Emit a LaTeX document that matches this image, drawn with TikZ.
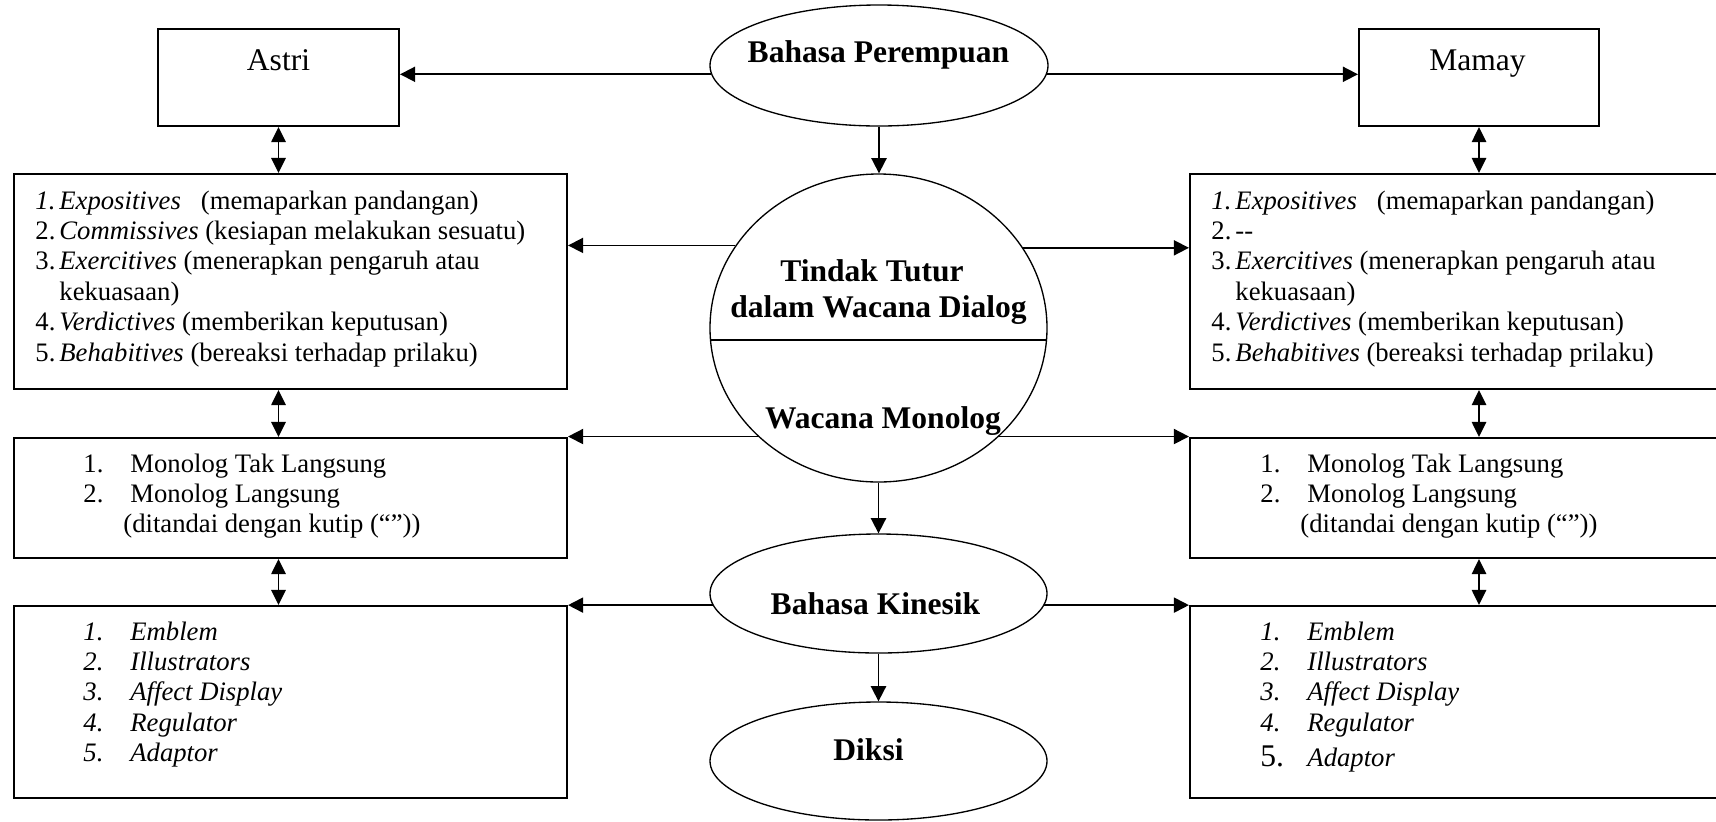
\documentclass[tikz,border=0pt]{standalone}
\usepackage{fontspec}
\setmainfont{Liberation Serif}
\usetikzlibrary{arrows.meta,shapes.geometric}
\newcommand{\lab}[2][10.8pt]{\makebox[#1][l]{#2}}
\tikzset{
  box/.style={draw, line width=0.95pt, rectangle, inner sep=0pt},
  oval/.style={draw, line width=0.6pt, ellipse, inner sep=0pt},
  arr/.style={line width=0.8pt, -{Triangle[length=6.8pt,width=6.8pt]}},
  darr/.style={line width=0.8pt, {Triangle[length=6.8pt,width=6.5pt]}-{Triangle[length=6.8pt,width=6.5pt]}},
  body/.style={inner sep=0pt, anchor=base west, font=\fontsize{12}{13.7}\selectfont},
  title/.style={inner sep=0pt, anchor=base, font=\fontsize{14.2}{16}\selectfont\bfseries},
  who/.style={inner sep=0pt, anchor=base, font=\fontsize{14.2}{16}\selectfont},
}
\begin{document}
\begin{tikzpicture}[x=0.45pt,y=-0.45pt]
\useasboundingbox (0,0) rectangle (1716,821);
\clip (0,0) rectangle (1716,821);

% boxes
\node[box, minimum width=108.45pt, minimum height=43.65pt] (astri) at (278.5,77.5) {};
\node[box, minimum width=108pt, minimum height=43.65pt] (mamay) at (1479,77.5) {};
\node[box, minimum width=248.85pt, minimum height=96.75pt] (b1L) at (290.5,281.5) {};
\node[box, minimum width=248.85pt, minimum height=54pt] (b2L) at (290.5,498) {};
\node[box, minimum width=248.85pt, minimum height=86.4pt] (b3L) at (290.5,702) {};
\node[box, minimum width=256.5pt, minimum height=96.75pt] (b1R) at (1475,281.5) {};
\node[box, minimum width=256.5pt, minimum height=54pt] (b2R) at (1475,498) {};
\node[box, minimum width=256.5pt, minimum height=86.4pt] (b3R) at (1475,702) {};

% ovals
\node[oval, minimum width=152.1pt, minimum height=54.45pt] (BP) at (879,65.5) {};
\node[oval, minimum width=151.65pt, minimum height=138.6pt] (TT) at (878.5,328) {};
\node[oval, minimum width=151.65pt, minimum height=53.55pt] (BK) at (878.5,593.5) {};
\node[oval, minimum width=151.65pt, minimum height=53.1pt] (DK) at (878.5,761) {};
\draw[line width=0.7pt] (TT.184.8) -- (TT.-4.8);

% titles
\node[who] (tA) at (278.5,70) {Astri};
\node[who] (tM) at (1477.5,70) {Mamay};
\node[title] (tBP) at (878.5,62) {Bahasa Perempuan};
\node[title] (tTT1) at (872,281) {Tindak Tutur};
\node[title] (tTT2) at (878.5,317) {dalam Wacana Dialog};
\node[title] (tWM) at (883,428) {Wacana Monolog};
\node[title] (tBK) at (875.5,614) {Bahasa Kinesik};
\node[title] (tDK) at (868.5,760) {Diksi};

% list texts
\node[body] (l1L) at (35,209) {\begin{tabular}[t]{@{}l@{}}
\lab{\textit{1.}}\textit{Expositives}\hspace{9pt}(memaparkan pandangan)\\
\lab{2.}\textit{Commissives} (kesiapan melakukan sesuatu)\\
\lab{3.}\textit{Exercitives} (menerapkan pengaruh atau\\
\lab{}kekuasaan)\\
\lab{4.}\textit{Verdictives} (memberikan keputusan)\\
\lab{5.}\textit{Behabitives} (bereaksi terhadap prilaku)
\end{tabular}};
\node[body] (l1R) at (1211,209) {\begin{tabular}[t]{@{}l@{}}
\lab{\textit{1.}}\textit{Expositives}\hspace{9pt}(memaparkan pandangan)\\
\lab{2.}-{}-\\
\lab{3.}\textit{Exercitives} (menerapkan pengaruh atau\\
\lab{}kekuasaan)\\
\lab{4.}\textit{Verdictives} (memberikan keputusan)\\
\lab{5.}\textit{Behabitives} (bereaksi terhadap prilaku)
\end{tabular}};
\node[body] (l2L) at (83,472) {\begin{tabular}[t]{@{}l@{}}
\lab[21.15pt]{1.}Monolog Tak Langsung\\
\lab[21.15pt]{2.}Monolog Langsung\\
\hspace{18pt}(ditandai dengan kutip (“”))
\end{tabular}};
\node[body] (l2R) at (1260,472) {\begin{tabular}[t]{@{}l@{}}
\lab[21.15pt]{1.}Monolog Tak Langsung\\
\lab[21.15pt]{2.}Monolog Langsung\\
\hspace{18pt}(ditandai dengan kutip (“”))
\end{tabular}};
\node[body] (l3L) at (83,640) {\begin{tabular}[t]{@{}l@{}}
\lab[21.15pt]{\textit{1.}}\textit{Emblem}\\
\lab[21.15pt]{\textit{2.}}\textit{Illustrators}\\
\lab[21.15pt]{\textit{3.}}\textit{Affect Display}\\
\lab[21.15pt]{\textit{4.}}\textit{Regulator}\\
\lab[21.15pt]{\textit{5.}}\textit{Adaptor}
\end{tabular}};
\node[body] (l3R) at (1260,640) {\begin{tabular}[t]{@{}l@{}}
\lab[21.15pt]{\textit{1.}}\textit{Emblem}\\
\lab[21.15pt]{\textit{2.}}\textit{Illustrators}\\
\lab[21.15pt]{\textit{3.}}\textit{Affect Display}\\
\lab[21.15pt]{\textit{4.}}\textit{Regulator}\\[2.3pt]
\lab[21.15pt]{\fontsize{14.2}{13.7}\selectfont 5.}\textit{Adaptor}
\end{tabular}};

% connectors
\draw[arr] (BP.183.97) -- (BP.183.97 -| astri.east);
\draw[arr] (BP.-3.97) -- (BP.-3.97 -| mamay.west);
\draw[arr] (BP.south) -- (BP.south |- TT.north);
\draw[arr] (TT.150.1) -- (TT.150.1 -| b1L.east);
\draw[arr] (TT.29.9) -- (TT.29.9 -| b1R.west);
\draw[arr] (TT.222.5) -- (TT.222.5 -| b2L.east);
\draw[arr] (TT.-42.5) -- (TT.-42.5 -| b2R.west);
\draw[arr] (TT.south) -- (TT.south |- BK.north);
\draw[arr] (BK.184.34) -- (BK.184.34 -| b3L.east);
\draw[arr] (BK.-4.34) -- (BK.-4.34 -| b3R.west);
\draw[arr] (BK.south) -- (BK.south |- DK.north);

\draw[darr] (astri.south) -- (astri.south |- b1L.north);
\draw[darr] (astri.south |- b1L.south) -- (astri.south |- b2L.north);
\draw[darr] (astri.south |- b2L.south) -- (astri.south |- b3L.north);
\draw[darr] (mamay.south) -- (mamay.south |- b1R.north);
\draw[darr] (mamay.south |- b1R.south) -- (mamay.south |- b2R.north);
\draw[darr] (mamay.south |- b2R.south) -- (mamay.south |- b3R.north);
\end{tikzpicture}
\end{document}
